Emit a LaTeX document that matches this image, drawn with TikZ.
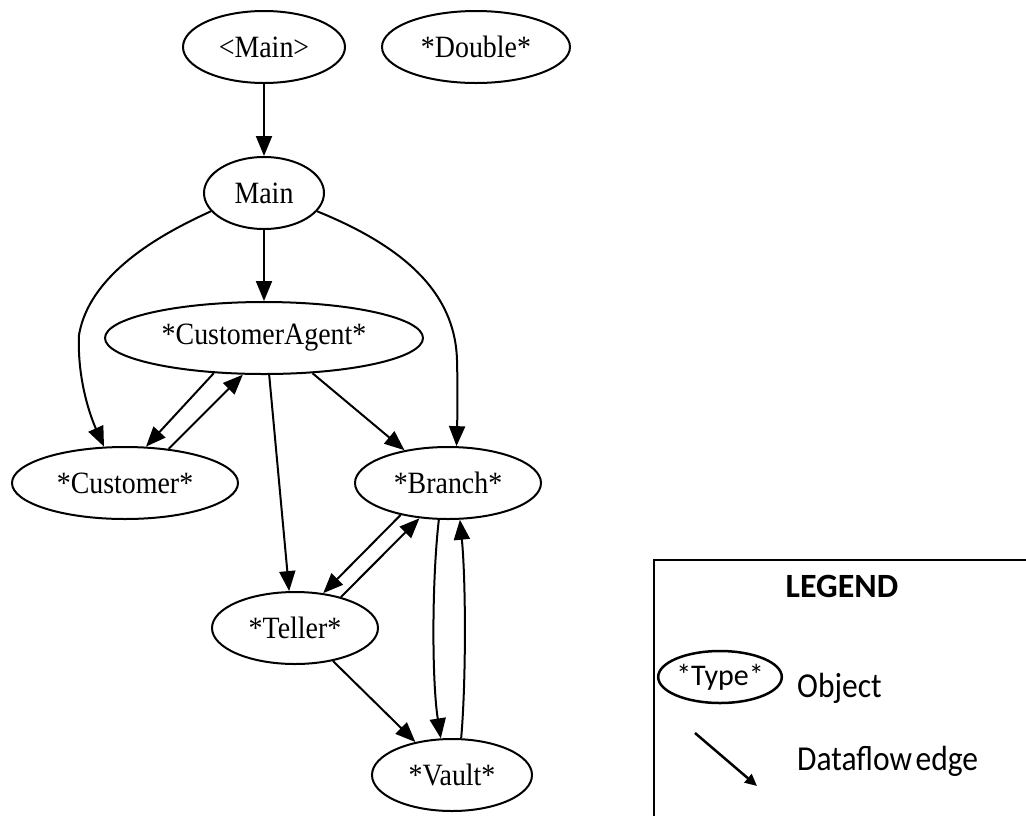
\documentclass[tikz,border=0pt]{standalone}
\usepackage{fontspec}
\newfontfamily\graphfont[FakeStretch=0.9]{Liberation Serif}
\newfontfamily\legendfont[FakeStretch=0.9]{Carlito}
\newfontfamily\legendbold[]{Carlito}
\usetikzlibrary{shapes.geometric,arrows.meta}
\tikzset{
  obj/.style={draw, ellipse, line width=2pt, inner sep=0pt,
    minimum height=72pt, font=\graphfont\fontsize{31}{36}\selectfont},
  flow/.style={line width=2pt, -{Triangle[length=20pt,width=16pt]}},
  legtext/.style={anchor=base west, inner sep=0pt, font=\legendfont\fontsize{35}{42}\selectfont},
}
\begin{document}
\begin{tikzpicture}[x=1pt,y=-1pt]
\useasboundingbox (0,0) rectangle (1026,815);

% objects
\node[obj, minimum width=162pt] (pmain)    at (264,47)  {<Main>};
\node[obj, minimum width=188pt] (double)   at (476,47)  {*Double*};
\node[obj, minimum width=120pt] (main)     at (264,193) {Main};
\node[obj, minimum width=318pt] (agent)    at (264,338) {*CustomerAgent*};
\node[obj, minimum width=226pt] (customer) at (125,483) {*Customer*};
\node[obj, minimum width=186pt] (branch)   at (448,483) {*Branch*};
\node[obj, minimum width=166pt] (teller)   at (295,628) {*Teller*};
\node[obj, minimum width=160pt] (vault)    at (452,775) {*Vault*};

% dataflow edges
\draw[flow] (pmain.south) -- (main.north);
\draw[flow] (main.south) -- (agent.north);
\draw[flow] (main.-161) .. controls (170,230) and (90,270) .. (79,335)
            .. controls (77,382) and (92,420) .. (customer.120);
\draw[flow] (main.-19) .. controls (400,245) and (455,290) .. (457,360)
            .. controls (458,400) and (457,430) .. (branch.77);
\draw[flow] (agent.-145) -- (customer.60);
\draw[flow] (customer.38) -- (agent.-120);
\draw[flow] (agent.-36) -- (branch.143);
\draw[flow] (agent.-82) -- (teller.99);
\draw[flow] (branch.-146) -- (teller.51);
\draw[flow] (teller.34) -- (branch.-129);
\draw[flow] (branch.-104) .. controls +(-7,61) and +(-9,-58) .. (vault.107);
\draw[flow] (vault.76) .. controls +(5,-57) and +(6,61) .. (branch.-72);
\draw[flow] (teller.-41) -- (vault.138);

% legend frame
\coordinate (frameR) at (1030,560);
\coordinate (frameB) at (654,820);
\draw[line width=2pt] (frameR) -| (frameB);

\node[anchor=base, inner sep=0pt, font=\legendbold\bfseries\fontsize{34}{40}\selectfont]
  (legtitle) at (842,597) {LEGEND};
\node[draw, ellipse, line width=2.5pt, inner sep=0pt, minimum width=94pt, minimum height=52pt,
  font=\legendbold\fontsize{30}{36}\selectfont] (legobj) at (720,677) {*Type*};
\node[legtext] (legobjtext) at (797,697) {Object};
\coordinate (legA) at (695,733);
\coordinate (legB) at (757,786);
\draw[line width=2.5pt, -{Triangle[length=12pt,width=11pt]}] (legA) -- (legB);
\node[legtext] (legedgetext) at (797,770) {Dataflow\hspace{0.1em}edge};
\end{tikzpicture}
\end{document}
